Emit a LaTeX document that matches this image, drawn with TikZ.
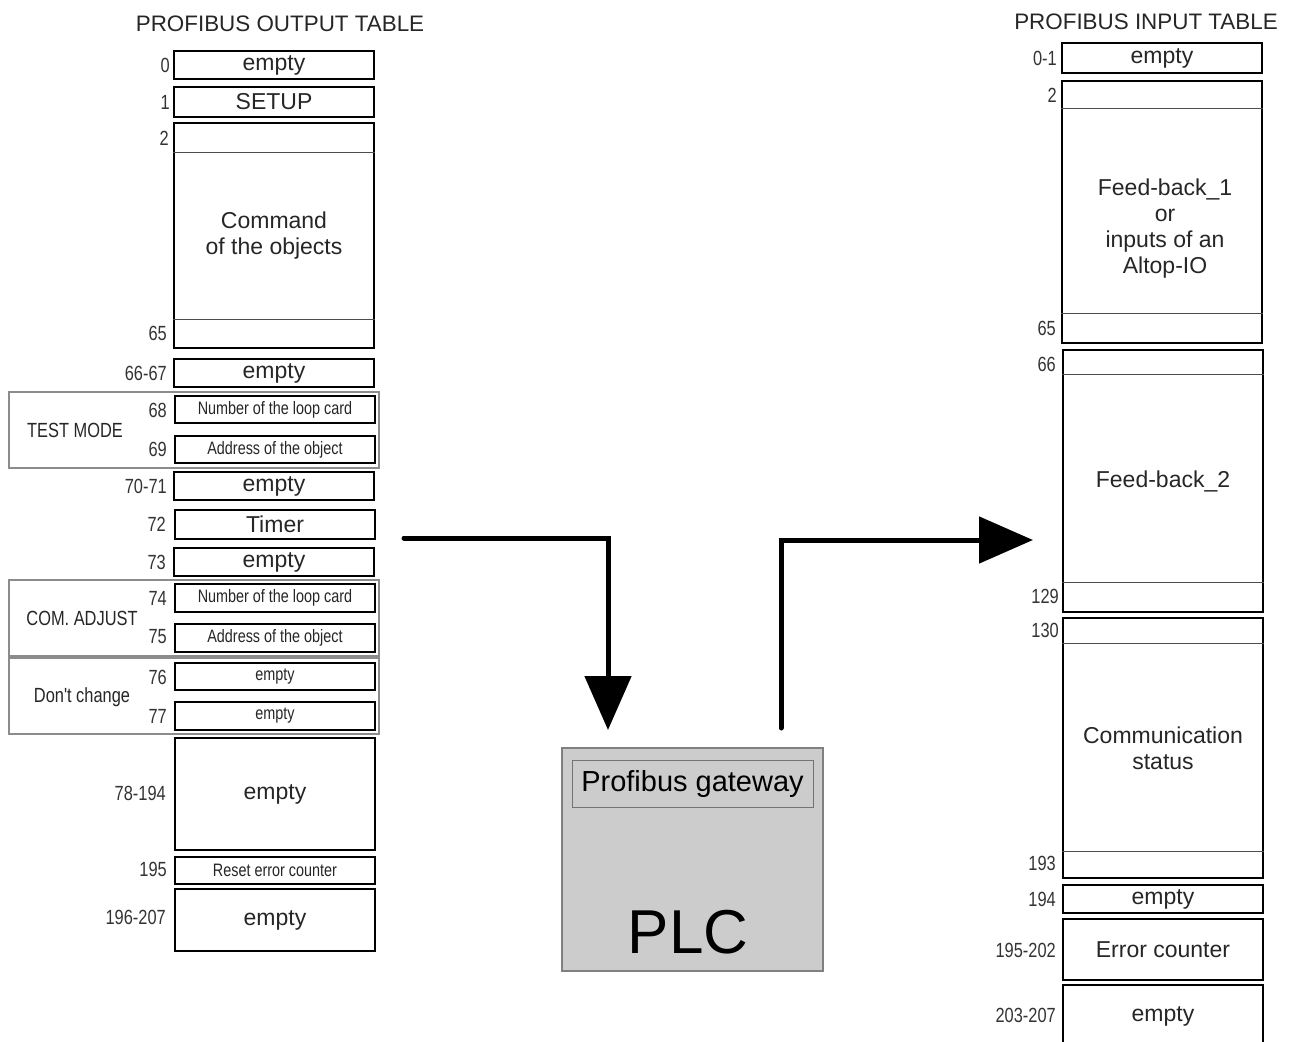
\documentclass[tikz,border=0pt]{standalone}
\usepackage{fontspec}
\setmainfont{Liberation Sans}
\newfontfamily\narrowfont[FakeStretch=0.8]{Liberation Sans}
\usetikzlibrary{arrows.meta}

\begin{document}
\begin{tikzpicture}[x=1pt,y=-1pt,
    cell/.style={draw,line width=1.6pt,minimum width=200pt,inner sep=0pt,text=black!85,
      font=\fontsize{23}{26}\selectfont,align=center},
    smallcell/.style={cell,font=\narrowfont\fontsize{18}{20}\selectfont},
    num/.style={anchor=east,inner sep=0pt,text=black!80,font=\narrowfont\fontsize{20.5}{22}\selectfont},
    group/.style={draw=black!45,line width=1.4pt,minimum width=370pt,minimum height=76pt},
    glabel/.style={inner sep=0pt,text=black!85,font=\narrowfont\fontsize{20.5}{22}\selectfont},
    sep/.style={draw=black!70,line width=0.8pt},
    title/.style={text=black!85,font=\fontsize{22.4}{26}\selectfont},
    flow/.style={line width=5pt,line cap=round,-{Triangle[length=54pt,width=46pt]}}]
          \clip (0,0) rectangle (1295,1041);

          % output table
          \node[title] (otitle) at (280,24) {PROFIBUS OUTPUT TABLE};
          \node[group] (gtest) at (194,430) {};
          \node[group] (gcom) at (194,618) {};
          \node[group] (gdont) at (194,696) {};
          \node[glabel] (ltest) at (75,430) {TEST MODE};
          \node[glabel] (lcom) at (82,618) {COM. ADJUST};
          \node[glabel] (ldont) at (82,697) {Don't change};

          \node[cell,minimum height=28pt] (o0) at (274,65) {empty};
          \node[cell,minimum height=30pt] (o1) at (274,102) {SETUP};
          \node[cell,minimum height=225pt] (o2) at (274,235.5) {Command\\of the objects};
          \node[cell,minimum height=28pt] (o66) at (274,373) {empty};
          \node[smallcell,minimum height=27pt] (o68) at (275,409.5) {Number of the loop card};
          \node[smallcell,minimum height=27pt] (o69) at (275,449.5) {Address of the object};
          \node[cell,minimum height=28pt] (o70) at (274,486) {empty};
          \node[cell,minimum height=29pt] (o72) at (275,524.5) {Timer};
          \node[cell,minimum height=28pt] (o73) at (274,562) {empty};
          \node[smallcell,minimum height=28pt] (o74) at (275,598) {Number of the loop card};
          \node[smallcell,minimum height=28pt] (o75) at (275,638) {Address of the object};
          \node[smallcell,minimum height=27pt] (o76) at (275,676.5) {empty};
          \node[smallcell,minimum height=28pt] (o77) at (275,716) {empty};
          \node[cell,minimum height=112pt] (o78) at (275,794) {empty};
          \node[smallcell,minimum height=27pt] (o195) at (275,870.5) {Reset error counter};
          \node[cell,minimum height=62pt] (o196) at (275,920) {empty};

          \node[num] (n0) at (170,65) {0};
          \node[num] (n1) at (170,102) {1};
          \node[num] (n2) at (169,138) {2};
          \node[num] (n65) at (167,333) {65};
          \node[num] (n66) at (167,373) {66-67};
          \node[num] (n68) at (167,410) {68};
          \node[num] (n69) at (167,449) {69};
          \node[num] (n70) at (167,486) {70-71};
          \node[num] (n72) at (166,524) {72};
          \node[num] (n73) at (166,562) {73};
          \node[num] (n74) at (167,598) {74};
          \node[num] (n75) at (167,637) {75};
          \node[num] (n76) at (167,677) {76};
          \node[num] (n77) at (167,716) {77};
          \node[num] (n78) at (166,793) {78-194};
          \node[num] (n195) at (167,869) {195};
          \node[num] (n196) at (166,917) {196-207};

          % input table
          \node[title] (ititle) at (1146,22) {PROFIBUS INPUT TABLE};
          \node[cell,minimum height=30pt] (i0) at (1162,58) {empty};
          \node[cell,minimum height=262pt] (i2) at (1162,212) {};
          \node[cell,draw=none] (fb1) at (1165,229) {Feed-back\_1\\or\\inputs of an\\Altop-IO};
          \node[cell,minimum height=262pt] (i66) at (1163,481) {Feed-back\_2};
          \node[cell,minimum height=260pt] (i130) at (1163,748) {Communication\\status};
          \node[cell,minimum height=28pt] (i194) at (1163,899) {empty};
          \node[cell,minimum height=61pt] (i195) at (1163,949.5) {Error counter};
          \node[cell,minimum height=62pt] (i203) at (1163,1016) {empty};

          \node[num] (m0) at (1057,58) {0-1};
          \node[num] (m2) at (1057,95) {2};
          \node[num] (m65) at (1056,328) {65};
          \node[num] (m66) at (1056,364) {66};
          \node[num] (m129) at (1059,596) {129};
          \node[num] (m130) at (1059,630) {130};
          \node[num] (m193) at (1056,863) {193};
          \node[num] (m194) at (1056,899) {194};
          \node[num] (m195) at (1056,950) {195-202};
          \node[num] (m203) at (1056,1015) {203-207};

          \foreach \n/\a/\b in {o2/30/29, i2/28/30, i66/25/30, i130/26/27} {
            \draw[sep] ([yshift=-\a pt]\n.north west) -- ([yshift=-\a pt]\n.north east);
            \draw[sep] ([yshift=\b pt]\n.south west) -- ([yshift=\b pt]\n.south east);
          }

          % plc
          \node[draw=black!50,fill=black!20,line width=1.2pt,minimum width=261pt,minimum height=223pt] (plc) at (692.5,859.5) {};
          \node[draw=black!55,line width=1pt,minimum width=241pt,minimum height=47pt,inner sep=0pt,
            font=\fontsize{29}{32}\selectfont] (gw) at (692.5,783.5) {Profibus gateway};
          \node[font=\fontsize{62}{64}\selectfont,inner sep=0pt] (plctext) at (688,932) {PLC};

          \coordinate (ta) at (404,538);
          \coordinate (pa) at (608,748);
          \coordinate (pb) at (781,748);
          \coordinate (tb) at (1033,540);
          \draw[flow,shorten >=18pt] (ta) -| (pa);
          \draw[flow,shorten <=20pt] (pb) |- (tb);
        \end{tikzpicture}
\end{document}
